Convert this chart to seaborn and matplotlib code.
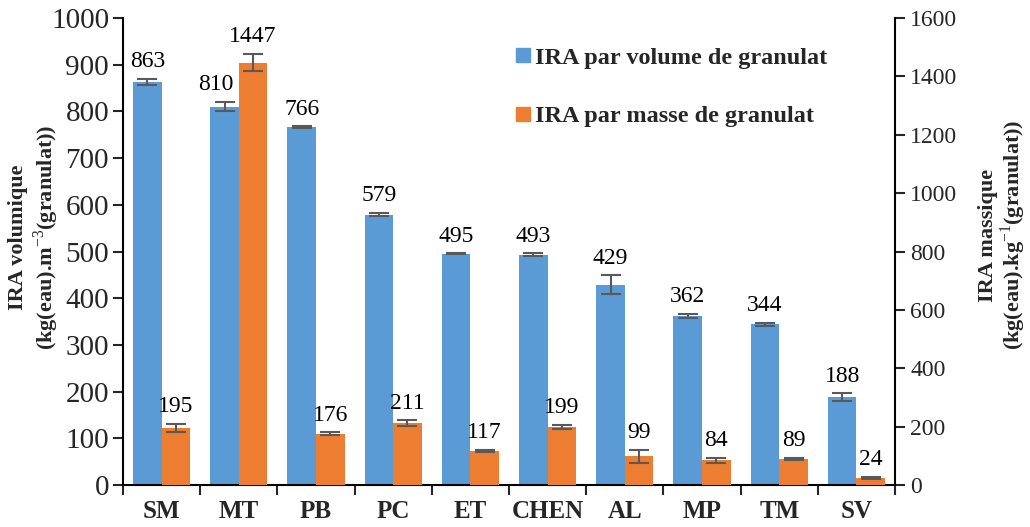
import matplotlib
matplotlib.use("Agg")
import matplotlib.pyplot as plt
import seaborn as sns
import pandas as pd
import numpy as np
from matplotlib.lines import Line2D

# Data
categories = ["SM", "MT", "PB", "PC", "ET", "CHEN", "AL", "MP", "TM", "SV"]
ira_volume = [863, 810, 766, 579, 495, 493, 429, 362, 344, 188]
ira_volume_err = [7, 10, 2, 4, 1, 3, 20, 4, 3, 8]
ira_masse = [195, 1447, 176, 211, 117, 199, 99, 84, 89, 24]
ira_masse_err = [14, 30, 4, 10, 3, 8, 22, 10, 4, 5]

lab_vol = "IRA par volume de granulat"
lab_mas = "IRA par masse de granulat"
c_vol = "#5B9BD5"
c_mas = "#ED7D31"
err_col = "#595959"

sns.set_theme(style="white")
plt.rcParams["font.family"] = ["Liberation Serif", "DejaVu Serif"]
plt.rcParams["mathtext.fontset"] = "custom"
plt.rcParams["mathtext.rm"] = "Liberation Serif"
plt.rcParams["mathtext.bf"] = "Liberation Serif:bold"

df = pd.DataFrame({
    "cat": categories * 2,
    "serie": [lab_vol] * len(categories) + [lab_mas] * len(categories),
    "val": ira_volume + ira_masse,
})
hue_order = [lab_vol, lab_mas]

fig = plt.figure(figsize=(10.30, 5.27), dpi=100)
ax = fig.add_axes([0.1194, 0.0797, 0.7496, 0.8861])
ax2 = ax.twinx()

sub_v = df[df.serie == lab_vol]
sub_m = df[df.serie == lab_mas]
common = dict(x="cat", y="val", hue="serie", hue_order=hue_order, order=categories,
              palette=[c_vol, c_mas], width=0.74, errorbar=None, legend=False,
              saturation=1, linewidth=0, dodge=True)
sns.barplot(data=sub_v, ax=ax, **common)
sns.barplot(data=sub_m, ax=ax2, **common)

ax.set_ylim(0, 1000)
ax2.set_ylim(0, 1600)
ax.set_xlim(-0.5, len(categories) - 0.5)

fs = 17


def annotate(axis, vals, errs, dx=None):
    dx = dx or {}
    bars = [p for p in axis.patches if p.get_height() > 0]
    bars.sort(key=lambda p: p.get_x())
    for i, (p, v, e) in enumerate(zip(bars, vals, errs)):
        xc = p.get_x() + p.get_width() / 2
        axis.errorbar(xc, v, yerr=e, fmt="none", ecolor=err_col, elinewidth=1.5,
                      capsize=7, capthick=1.5, zorder=5)
        axis.annotate(f"{v}", (xc, v + e), xytext=(dx.get(i, 0), 8.5),
                      textcoords="offset points", ha="center", va="baseline",
                      fontsize=fs, color="black")


# the MT volume label is nudged left so it clears the taller neighbouring bar
annotate(ax, ira_volume, ira_volume_err, dx={1: -6})
annotate(ax2, ira_masse, ira_masse_err)

# Axes styling
for a in (ax, ax2):
    for s in a.spines.values():
        s.set_color("black")
        s.set_linewidth(1.5)
    a.spines["top"].set_visible(False)
ax.spines["right"].set_visible(False)
ax2.spines["left"].set_visible(False)
ax2.spines["bottom"].set_visible(False)

ax.set_yticks(np.arange(0, 1001, 100))
ax2.set_yticks(np.arange(0, 1601, 200))
ax.tick_params(axis="y", direction="out", length=7, width=1.5, labelsize=21, left=True, pad=3)
ax2.tick_params(axis="y", direction="out", length=7, width=1.5, labelsize=fs, right=True, pad=4)

ax.set_xticks(range(len(categories)))
ax.set_xticklabels(categories, fontsize=18, fontweight="bold")
ax.set_xticks(np.arange(-0.5, len(categories), 1.0), minor=True)
ax.tick_params(axis="x", which="major", length=0, pad=11)
ax.tick_params(axis="x", which="minor", direction="out", length=7, width=1.5, bottom=True)
ax.set_xlabel("")

ax.set_ylabel("IRA volumique\n(kg(eau).m$^{-3}$(granulat))", fontsize=16,
              fontweight="bold", linespacing=1.15)
ax.yaxis.label.set_va("center")
ax.yaxis.set_label_coords(-0.115, 0.53)
ax2.set_ylabel("IRA massique\n(kg(eau).kg$^{-1}$(granulat))", fontsize=16,
               fontweight="bold", linespacing=1.0, rotation=90)
ax2.yaxis.label.set_va("center")
ax2.yaxis.set_label_coords(1.14, 0.535)

ax.grid(False)
ax2.grid(False)

handles = [
    Line2D([], [], marker="s", linestyle="none", markersize=10, color=c_vol),
    Line2D([], [], marker="s", linestyle="none", markersize=10, color=c_mas),
]
ax.legend(handles, [lab_vol, lab_mas], loc="upper left",
          bbox_to_anchor=(0.477, 0.985), frameon=False,
          prop={"weight": "bold", "size": 17.5}, handletextpad=0.1,
          labelspacing=1.5, handlelength=0.8)

fig.savefig("out.png", dpi=100)
